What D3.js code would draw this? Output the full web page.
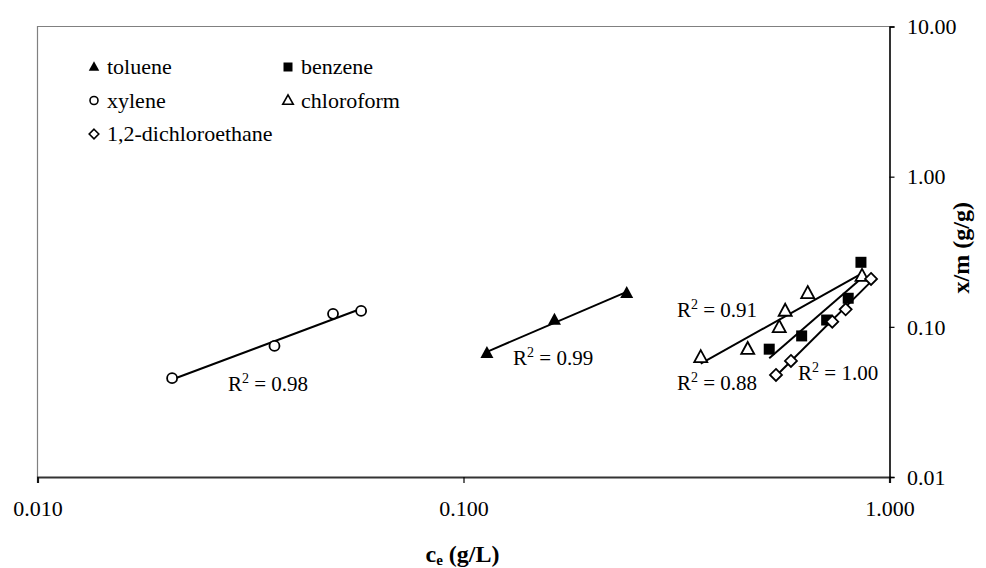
<!DOCTYPE html>
<html>
<head>
<meta charset="utf-8">
<script src="https://cdn.jsdelivr.net/npm/d3@7"></script>
<style>
  body { margin: 0; background: #fff; }
  svg { display: block; }
  svg text { font-family: "Liberation Serif", "Times New Roman", serif; fill: #000; }
</style>
</head>
<body>
<div id="chart"></div>
<script>
// Freundlich isotherms, x/m vs ce, log-log

const seriesNames = ["toluene", "benzene", "xylene", "chloroform", "1,2-dichloroethane"];

const tolueneCe = [0.1135, 0.1635, 0.2416];
const tolueneXm = [0.0667, 0.111, 0.1675];

const benzeneCe = [0.522, 0.622, 0.712, 0.80, 0.857];
const benzeneXm = [0.071, 0.087, 0.111, 0.155, 0.269];

const xyleneCe = [0.0207, 0.036, 0.0494, 0.0575];
const xyleneXm = [0.0455, 0.0746, 0.122, 0.1277];

const chloroformCe = [0.3605, 0.4647, 0.551, 0.569, 0.6427, 0.862];
const chloroformXm = [0.0627, 0.071, 0.0994, 0.1276, 0.1674, 0.218];

const dceCe = [0.5414, 0.587, 0.734, 0.789, 0.905];
const dceXm = [0.0478, 0.0593, 0.1083, 0.1309, 0.2084];

// R² annotation text and where it sits (data units: left edge, baseline)
const r2Text = ["0.98", "0.99", "0.91", "0.88", "1.00"];
const r2Ce = [0.0280, 0.1307, 0.317, 0.317, 0.610];
const r2Xm = [0.0374, 0.0558, 0.1164, 0.038, 0.0443];

const xTicks = [0.01, 0.1, 1];
const xTickLabels = ["0.010", "0.100", "1.000"];
const yTicks = [0.01, 0.1, 1, 10];
const yTickLabels = ["0.01", "0.10", "1.00", "10.00"];

const width = 986, height = 568;
const margin = { top: 26.5, right: 96.5, bottom: 91, left: 37.5 };
const innerW = width - margin.left - margin.right;
const innerH = height - margin.top - margin.bottom;

const svg = d3.select("#chart").append("svg")
  .attr("width", width)
  .attr("height", height);

const g = svg.append("g").attr("transform", `translate(${margin.left},${margin.top})`);

const x = d3.scaleLog().domain([0.01, 1]).range([0, innerW]);
const y = d3.scaleLog().domain([0.01, 10]).range([innerH, 0]);

// marker paths
function triPath(w, h) {
  return `M0,${-h * 0.6}L${w / 2},${h * 0.4}L${-w / 2},${h * 0.4}Z`;
}
function squarePath(s) {
  return `M${-s / 2},${-s / 2}h${s}v${s}h${-s}Z`;
}
function diamondPath(r) {
  return `M0,${-r}L${r},0L0,${r}L${-r},0Z`;
}
function circlePath(r) {
  return `M${r},0A${r},${r} 0 1,1 ${-r},0A${r},${r} 0 1,1 ${r},0Z`;
}

const styles = {
  "toluene": { big: triPath(13, 12), small: triPath(10.5, 9.5), fill: "#000", stroke: "none" },
  "benzene": { big: squarePath(11), small: squarePath(9), fill: "#000", stroke: "none" },
  "xylene": { big: circlePath(5), small: circlePath(4), fill: "#fff", stroke: "#000" },
  "chloroform": { big: triPath(13, 12), small: triPath(10.5, 9.5), fill: "#fff", stroke: "#000" },
  "1,2-dichloroethane": { big: diamondPath(6), small: diamondPath(4.8), fill: "#fff", stroke: "#000" }
};

const series = [
  { name: "xylene", ce: xyleneCe, xm: xyleneXm },
  { name: "toluene", ce: tolueneCe, xm: tolueneXm },
  { name: "chloroform", ce: chloroformCe, xm: chloroformXm },
  { name: "benzene", ce: benzeneCe, xm: benzeneXm },
  { name: "1,2-dichloroethane", ce: dceCe, xm: dceXm }
];

// plot frame (gray top/left)
g.append("path")
  .attr("d", `M0,${innerH}V0H${innerW}`)
  .attr("fill", "none")
  .attr("stroke", "#808080")
  .attr("stroke-width", 1.2);

// power trendlines (least squares in log-log)
series.forEach(s => {
  const lx = s.ce.map(Math.log10), ly = s.xm.map(Math.log10);
  const mx = d3.mean(lx), my = d3.mean(ly);
  const b = d3.sum(lx, (v, i) => (v - mx) * (ly[i] - my)) / d3.sum(lx, v => (v - mx) ** 2);
  const a = my - b * mx;
  const [x0, x1] = d3.extent(s.ce);
  const f = v => Math.pow(10, a + b * Math.log10(v));
  g.append("line")
    .attr("x1", x(x0)).attr("y1", y(f(x0)))
    .attr("x2", x(x1)).attr("y2", y(f(x1)))
    .attr("stroke", "#000")
    .attr("stroke-width", 2);
});

// markers
series.forEach(s => {
  const st = styles[s.name];
  g.selectAll(null)
    .data(s.ce.map((c, i) => [c, s.xm[i]]))
    .join("path")
    .attr("transform", d => `translate(${x(d[0])},${y(d[1])})`)
    .attr("d", st.big)
    .attr("fill", st.fill)
    .attr("stroke", st.stroke)
    .attr("stroke-width", 1.8);
});

// R² labels
r2Text.forEach((t, i) => {
  const txt = g.append("text")
    .attr("x", x(r2Ce[i]))
    .attr("y", y(r2Xm[i]))
    .attr("font-size", 21);
  txt.append("tspan").text("R");
  txt.append("tspan").attr("font-size", 14).attr("dy", -8).text("2");
  txt.append("tspan").attr("dy", 8).text(" = " + t);
});

// x axis
const minorX = [];
[0.01, 0.1].forEach(d => { for (let k = 2; k <= 9; k++) minorX.push(d * k); });
const minorY = [];
[0.01, 0.1, 1].forEach(d => { for (let k = 2; k <= 9; k++) minorY.push(d * k); });

const xAxisG = g.append("g").attr("transform", `translate(0,${innerH})`);
xAxisG.call(d3.axisBottom(x).tickValues(minorX).tickSize(4).tickFormat(""));
xAxisG.call(d3.axisBottom(x).tickValues(xTicks).tickSize(6).tickFormat((d, i) => xTickLabels[i]));
xAxisG.attr("font-family", null).attr("font-size", null);
xAxisG.selectAll(".domain").attr("stroke", "#333").attr("stroke-width", 2.2);
xAxisG.selectAll(".tick line").attr("stroke", "#000").attr("stroke-width", 1.2);
xAxisG.selectAll("text")
  .attr("y", 39).attr("dy", 0)
  .attr("font-size", 22);

// y axis (right)
const yAxisG = g.append("g").attr("transform", `translate(${innerW},0)`);
yAxisG.call(d3.axisRight(y).tickValues(minorY).tickSize(4).tickFormat(""));
yAxisG.call(d3.axisRight(y).tickValues(yTicks).tickSize(5).tickFormat((d, i) => yTickLabels[i]));
yAxisG.attr("font-family", null).attr("font-size", null);
yAxisG.selectAll(".domain").attr("stroke", "#000").attr("stroke-width", 1.6);
yAxisG.selectAll(".tick line").attr("stroke", "#000").attr("stroke-width", 1.2);
yAxisG.selectAll("text")
  .attr("x", 17.5).attr("dy", "0.33em")
  .attr("font-size", 22);

// axis titles
const xt = svg.append("text")
  .attr("x", margin.left + x(0.1) - 1)
  .attr("y", 562)
  .attr("text-anchor", "middle")
  .attr("font-size", 24)
  .attr("font-weight", "bold");
xt.append("tspan").text("c");
xt.append("tspan").attr("font-size", 15).attr("dy", 3).text("e");
xt.append("tspan").attr("dy", -3).text(" (g/L)");

svg.append("text")
  .attr("transform", `translate(961,${margin.top + innerH / 2 - 4}) rotate(-90)`)
  .attr("text-anchor", "middle")
  .attr("dy", "0.35em")
  .attr("font-size", 24)
  .attr("font-weight", "bold")
  .text("x/m (g/g)");

// legend
const legendOrder = [
  ["toluene", 0, 0], ["benzene", 1, 0],
  ["xylene", 0, 1], ["chloroform", 1, 1],
  ["1,2-dichloroethane", 0, 2]
];
const legend = svg.append("g").attr("transform", "translate(94,67)");
legendOrder.forEach(([name, col, row]) => {
  const st = styles[name];
  const item = legend.append("g").attr("transform", `translate(${col * 194},${row * 33.5})`);
  item.append("path")
    .attr("d", st.small)
    .attr("fill", st.fill)
    .attr("stroke", st.stroke)
    .attr("stroke-width", 1.6);
  item.append("text")
    .attr("x", 13)
    .attr("dy", "0.33em")
    .attr("font-size", 22)
    .text(name);
});
</script>
</body>
</html>
